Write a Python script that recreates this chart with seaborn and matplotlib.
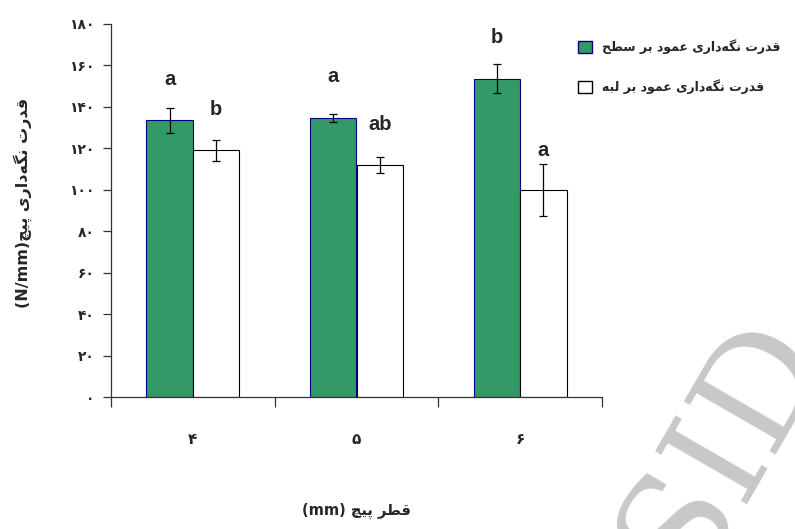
import matplotlib
matplotlib.use("Agg")
import matplotlib.pyplot as plt
import seaborn as sns
import pandas as pd
from matplotlib.patches import Patch

# ---------------- data ----------------
categories = ["۴", "۵", "۶"]                      # screw diameter (mm)
series = ["قدرت نگه‌داری عمود بر سطح", "قدرت نگه‌داری عمود بر لبه"]
surface_vals = [133.5, 134.5, 153.5]
surface_err = [6.0, 2.0, 7.0]
edge_vals = [119.0, 112.0, 100.0]
edge_err = [5.0, 4.0, 12.5]
surface_letters = ["a", "a", "b"]
edge_letters = ["b", "ab", "a"]
surface_letter_y = [153, 154.5, 173.5]
edge_letter_y = [138.5, 131.5, 119]
yticks = [0, 20, 40, 60, 80, 100, 120, 140, 160, 180]
ylabel = "قدرت نگه‌داری پیچ"
xlabel = "قطر پیچ"

# ---------------- minimal Persian shaping (matplotlib has no bidi/shaping) ----
FORMS = {  # isolated, final, initial, medial
    'ق': ('\uFED5', '\uFED6', '\uFED7', '\uFED8'),
    'د': ('\uFEA9', '\uFEAA', None, None),
    'ر': ('\uFEAD', '\uFEAE', None, None),
    'ت': ('\uFE95', '\uFE96', '\uFE97', '\uFE98'),
    'ن': ('\uFEE5', '\uFEE6', '\uFEE7', '\uFEE8'),
    'گ': ('\uFB92', '\uFB93', '\uFB94', '\uFB95'),
    'ه': ('\uFEE9', '\uFEEA', '\uFEEB', '\uFEEC'),
    'ا': ('\uFE8D', '\uFE8E', None, None),
    'ی': ('\uFBFC', '\uFBFD', '\uFBFE', '\uFBFF'),
    'ع': ('\uFEC9', '\uFECA', '\uFECB', '\uFECC'),
    'م': ('\uFEE1', '\uFEE2', '\uFEE3', '\uFEE4'),
    'و': ('\uFEED', '\uFEEE', None, None),
    'ب': ('\uFE8F', '\uFE90', '\uFE91', '\uFE92'),
    'س': ('\uFEB1', '\uFEB2', '\uFEB3', '\uFEB4'),
    'ط': ('\uFEC1', '\uFEC2', '\uFEC3', '\uFEC4'),
    'ح': ('\uFEA1', '\uFEA2', '\uFEA3', '\uFEA4'),
    'ل': ('\uFEDD', '\uFEDE', '\uFEDF', '\uFEE0'),
    'پ': ('\uFB56', '\uFB57', '\uFB58', '\uFB59'),
    'چ': ('\uFB7A', '\uFB7B', '\uFB7C', '\uFB7D'),
}


def dual(c):
    return c in FORMS and FORMS[c][2] is not None


def shape(text):
    out = []
    n = len(text)
    for i, c in enumerate(text):
        if c not in FORMS:
            if c != '\u200c':
                out.append(c)
            continue
        prev_j = i > 0 and dual(text[i - 1])
        next_j = dual(c) and i + 1 < n and text[i + 1] in FORMS
        iso, fin, ini, med = FORMS[c]
        if prev_j and next_j:
            out.append(med)
        elif prev_j:
            out.append(fin)
        elif next_j:
            out.append(ini)
        else:
            out.append(iso)
    return "".join(reversed(out))


# ---------------- figure ----------------
sns.set_theme(style="ticks")
plt.rcParams["font.family"] = ["DejaVu Sans"]
plt.rcParams["axes.unicode_minus"] = False

GREEN = "#339966"
fig = plt.figure(figsize=(7.95, 5.29), dpi=100)
ax = fig.add_axes([111 / 795, 1 - 397 / 529, (602 - 111) / 795, (397 - 24) / 529])

df = pd.DataFrame({
    "cat": categories * 2,
    "series": [series[0]] * 3 + [series[1]] * 3,
    "value": surface_vals + edge_vals,
})
sns.barplot(data=df, x="cat", y="value", hue="series", order=categories,
            hue_order=series, palette=[GREEN, "white"], width=0.567,
            errorbar=None, legend=False, ax=ax, saturation=1)

patches = sorted(ax.patches, key=lambda p: p.get_x())
errs = []
letters = []
letter_ys = []
for i in range(len(categories)):
    errs += [surface_err[i], edge_err[i]]
    letters += [surface_letters[i], edge_letters[i]]
    letter_ys += [surface_letter_y[i], edge_letter_y[i]]
for k, p in enumerate(patches):
    is_green = (k % 2 == 0)
    p.set_edgecolor("#000080" if is_green else "black")
    p.set_linewidth(0.8)
    xc = p.get_x() + p.get_width() / 2
    ax.errorbar(xc, p.get_height(), yerr=errs[k], fmt="none", ecolor="black",
                elinewidth=0.9, capsize=2.6, capthick=0.9, zorder=5)
    ax.text(xc, letter_ys[k], letters[k], ha="center", va="center",
            fontsize=14.5, fontweight="bold", family="Liberation Sans")

ax.set_xlim(-0.5, len(categories) - 0.5)
ax.set_ylim(0, 180)
ax.set_yticks(yticks)
pdig = str.maketrans("0123456789", "۰۱۲۳۴۵۶۷۸۹")
ax.set_yticklabels([str(v).translate(pdig) for v in yticks],
                   fontsize=10, fontweight="bold")
ax.set_xticks([i - 0.5 for i in range(len(categories) + 1)])
ax.set_xticklabels([])
ax.set_xticks(range(len(categories)), minor=True)
ax.set_xticklabels(categories, minor=True, fontsize=11, fontweight="bold")
ax.tick_params(axis="x", which="major", direction="out", length=7, width=0.9,
               color="#333333")
ax.tick_params(axis="x", which="minor", length=0, pad=25)
ax.tick_params(axis="y", direction="out", length=6, width=0.9, pad=6,
               color="#333333")
sns.despine(ax=ax)
for s in ("left", "bottom"):
    ax.spines[s].set_linewidth(0.9)
    ax.spines[s].set_color("#333333")
ax.grid(False)
ax.set_xlabel("(mm) " + shape(xlabel), fontsize=10.5, fontweight="bold")
ax.xaxis.set_label_coords(0.5, -0.285)
ax.set_ylabel("(N/mm)" + shape(ylabel), fontsize=11.5, fontweight="bold")
ax.yaxis.set_label_coords(-0.16, 0.52)

handles = [Patch(facecolor=GREEN, edgecolor="#000080", linewidth=1.0),
           Patch(facecolor="white", edgecolor="black", linewidth=1.0)]
fig.legend(handles, [shape(s) for s in series], loc="upper left",
           bbox_to_anchor=(572 / 795, 1 - 33 / 529), frameon=False,
           borderpad=0, handlelength=1.1, handleheight=1.1,
           handletextpad=0.8, labelspacing=2.0,
           prop={"size": 9, "weight": "bold"})

# watermark
fig.text(722 / 795, 1 - 447 / 529, "SID", fontsize=105, color="#c8c8c8",
         family="DejaVu Serif", rotation=60, ha="center", va="center",
         rotation_mode="anchor", zorder=0)

fig.savefig("out.png", dpi=100)
